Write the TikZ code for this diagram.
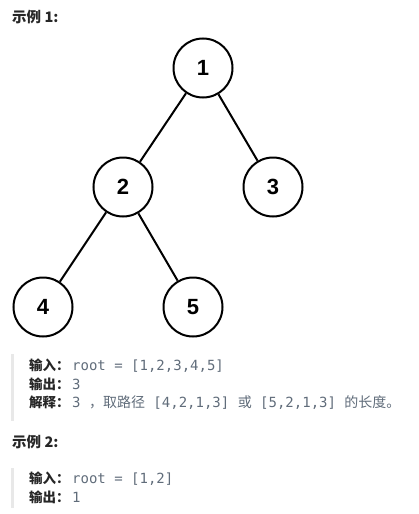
\documentclass[tikz,border=0pt]{standalone}
\usepackage{fontspec}
\setmainfont{Liberation Sans}
\setmonofont{DejaVu Sans Mono}
\newfontfamily\cjk{Noto Sans CJK SC}
\definecolor{codegray}{RGB}{96,108,122}
\definecolor{textdark}{RGB}{38,38,38}
\definecolor{bargray}{RGB}{232,232,232}

\begin{document}
\begin{tikzpicture}[x=1pt,y=-1pt,
	treenode/.style={circle,draw,line width=2pt,minimum size=59pt,inner sep=0pt,font=\fontsize{22}{22}\selectfont\bfseries},
	treeedge/.style={line width=2pt},
	headtext/.style={anchor=base west,inner sep=0pt,text=textdark,font=\cjk\fontsize{14.5}{14.5}\selectfont\bfseries},
	lbltext/.style={anchor=base west,inner sep=0pt,text=textdark,font=\cjk\fontsize{13.5}{13.5}\selectfont\bfseries},
	codetext/.style={anchor=base west,inner sep=0pt,text=codegray,font=\ttfamily\fontsize{14}{14}\selectfont}]
	\useasboundingbox (0,0) rectangle (418,514);
	% example 1
	\node[headtext] (head1) at (12,23) {示例 1:};
	\node[treenode] (n1) at (203,68) {1};
	\node[treenode] (n2) at (123,187) {2};
	\node[treenode] (n3) at (273,187) {3};
	\node[treenode] (n4) at (43,307) {4};
	\node[treenode] (n5) at (193,307) {5};
	\draw[treeedge] (n1) -- (n2);
	\draw[treeedge] (n1) -- (n3);
	\draw[treeedge] (n2) -- (n4);
	\draw[treeedge] (n2) -- (n5);
	\fill[bargray] (11,354) rectangle (14,421);
	\node[lbltext] (in1) at (29,370.5) {输入：};
	\node[codetext] (root1) at (72,370.5) {root = [1,2,3,4,5]};
	\node[lbltext] (out1) at (29,389.5) {输出：};
	\node[codetext] (res1) at (72,389.5) {3};
	\node[lbltext] (why1) at (29,407.5) {解释：};
	\node[codetext] (note1) at (72,407.5) {3 {\cjk ，取路径} [4,2,1,3] {\cjk 或} [5,2,1,3] {\cjk 的长度。}};
	% example 2
	\node[headtext] (head2) at (12,447) {示例 2:};
	\fill[bargray] (11,468) rectangle (14,508);
	\node[lbltext] (in2) at (29,483) {输入：};
	\node[codetext] (root2) at (72,483) {root = [1,2]};
	\node[lbltext] (out2) at (29,502) {输出：};
	\node[codetext] (res2) at (72,502) {1};
\end{tikzpicture}
\end{document}
